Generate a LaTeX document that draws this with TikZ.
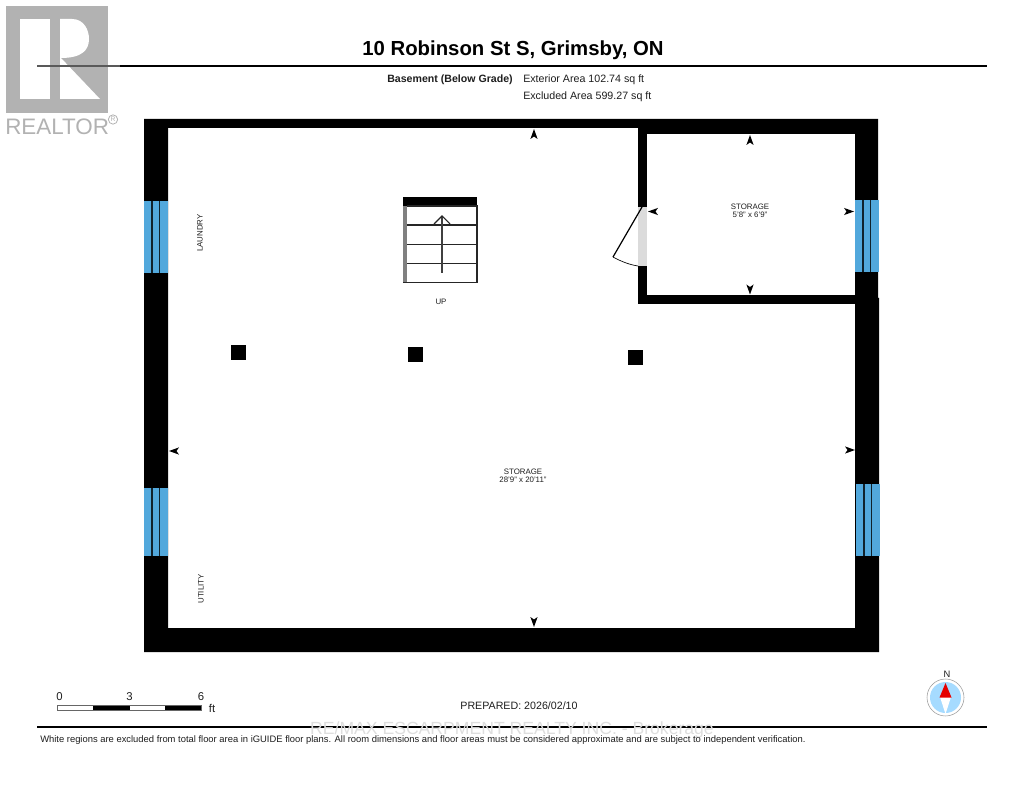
\documentclass[tikz,border=0pt]{standalone}
\usepackage{fontspec}
\setmainfont{Liberation Sans}
\definecolor{winblue}{RGB}{82,168,220}
\definecolor{logogray}{RGB}{178,178,178}
\definecolor{txt}{RGB}{30,30,30}
\tikzset{
 wall/.style={fill=black,draw=none},
 winpane/.style={fill=winblue,draw=none},
 winline/.style={draw=black!80!winblue,line width=0.8pt},
 tread/.style={draw=black!85,line width=0.8pt},
 lab/.style={inner sep=0,text=txt,font=\fontsize{5.9}{6.4}\selectfont},
 info/.style={inner sep=0,text=txt,font=\fontsize{8}{9}\selectfont,anchor=west},
 scalelab/.style={inner sep=0,text=txt,font=\fontsize{8.5}{9}\selectfont},
 tick/.style={fill=black,draw=none},
}
\newcommand{\winV}[3]{% x left, y top, y bottom (vertical window, 24 wide)
 \fill[winpane] (#1,#2) rectangle (#1+24,#3);
 \draw[winline] (#1+8,#2) -- (#1+8,#3);
 \draw[winline] (#1+15.5,#2) -- (#1+15.5,#3);
}
\newcommand{\tickU}[2]{\fill[tick] (#1,#2-5) -- (#1+3.6,#2+5) -- (#1,#2+2.5) -- (#1-3.6,#2+5) -- cycle;}
\newcommand{\tickD}[2]{\fill[tick] (#1,#2+5) -- (#1+3.6,#2-5) -- (#1,#2-2.5) -- (#1-3.6,#2-5) -- cycle;}
\newcommand{\tickL}[2]{\fill[tick] (#1-5,#2) -- (#1+5,#2-3.6) -- (#1+2.5,#2) -- (#1+5,#2+3.6) -- cycle;}
\newcommand{\tickR}[2]{\fill[tick] (#1+5,#2) -- (#1-5,#2-3.6) -- (#1-2.5,#2) -- (#1-5,#2+3.6) -- cycle;}
\begin{document}
\begin{tikzpicture}[x=0.75pt,y=-0.75pt]
\useasboundingbox (0,0) rectangle (1024,791);
\fill[white] (0,0) rectangle (1024,791);
% Realtor logo
\fill[logogray] (6,6) rectangle (108,113);
\fill[white] (20,19) rectangle (50,99);
\fill[white] (60,99) -- (60,19) -- (72,19) .. controls (84,19) and (89,30) .. (89,39) .. controls (89,50) and (82,58) .. (61,58) -- (100,99) -- cycle;
\node[inner sep=0,anchor=west,text=logogray,font=\fontsize{16.8}{18}\selectfont] (realtor) at (5,127) {REALTOR};
\node[circle,draw=logogray,line width=0.6pt,inner sep=0.7pt,text=logogray,font=\fontsize{5}{5}\selectfont] (reg) at (113,119.5) {R};
% Header
\node[inner sep=0,text=black,font=\bfseries\fontsize{15.25}{17}\selectfont] (title) at (513,50) {10 Robinson St S, Grimsby, ON};
\draw[black,line width=1.1pt] (120,66) -- (987,66);
\draw[black!65,line width=1.1pt] (37,66) -- (120,66);
\node[inner sep=0,anchor=east,text=txt,font=\bfseries\fontsize{7.95}{9}\selectfont] (lvl) at (513,80) {Basement (Below Grade)};
\node[info] (ext) at (523,80) {Exterior Area 102.74 sq ft};
\node[info] (excl) at (523,97) {Excluded Area 599.27 sq ft};
% Walls: outer mass with main room cut out
\fill[wall,even odd rule] (144,119) -- (878,119) -- (878,298) -- (879,298) -- (879,652) -- (144,652) -- cycle
 (168,128) -- (638,128) -- (638,304) -- (855,304) -- (855,628) -- (168,628) -- cycle;
% Storage room block
\fill[wall] (638,128) rectangle (855,304);
\fill[white] (647,134) rectangle (855,295);
% Windows
\winV{144}{201}{273}
\winV{144}{488}{556}
\winV{855}{200}{272}
\winV{856}{484}{556}
% Door
\fill[black!14] (638,207) rectangle (647,266);
\draw[black,line width=0.9pt] (642,207) -- (613,257);
\draw[black,line width=0.5pt] (613,257) .. controls (622,262) and (631,265) .. (638,266);
% Stairs
\fill[black!50] (402.5,197) rectangle (407,283);
\fill[black] (402.5,197) rectangle (477,206);
\draw[tread] (407,206) -- (477,206) -- (477,282.5) -- (402.5,282.5);
\draw[tread] (407,225) -- (477,225);
\draw[tread] (407,244.5) -- (477,244.5);
\draw[tread] (407,263.5) -- (477,263.5);
\draw[black!75,line width=0.9pt] (442,273) -- (442,216);
\draw[black!85,line width=0.8pt] (434,224) -- (442,216) -- (450,224);
\node[lab] (up) at (441,302) {UP};
% Columns
\fill[wall] (230.5,345) rectangle (245.5,360);
\fill[wall] (407.5,347.5) rectangle (422.5,362.5);
\fill[wall] (627.5,350) rectangle (642.5,365);
% Dimension ticks
\tickU{534}{134}
\tickU{750}{140}
\tickD{750}{289.5}
\tickD{534}{622}
\tickL{174}{451}
\tickL{653}{211.5}
\tickR{849}{211.5}
\tickR{850}{450}
% Room labels
\node[lab,rotate=90] (laundry) at (200,233) {LAUNDRY};
\node[lab,rotate=90] (utility) at (201,589) {UTILITY};
\node[lab,align=center] (st1) at (750,211) {STORAGE\\[-0.5pt]5'8" x 6'9"};
\node[lab,align=center] (st2) at (523,476) {STORAGE\\[-0.5pt]28'9" x 20'11"};
% Scale bar
\fill[black] (93,705) rectangle (130,711);
\fill[black] (165,705) rectangle (201.5,711);
\draw[black!60,line width=0.5pt] (57.5,705.5) rectangle (201.5,710.5);
\node[scalelab] (s0) at (59.5,697) {0};
\node[scalelab] (s3) at (129.5,697) {3};
\node[scalelab] (s6) at (201,697) {6};
\node[scalelab] (sft) at (212,708) {ft};
\node[inner sep=0,text=txt,font=\fontsize{8}{9}\selectfont] (prep) at (519,705.5) {PREPARED: 2026/02/10};
% Compass
\node[inner sep=0,text=txt,font=\fontsize{7}{8}\selectfont] (north) at (947,674) {N};
\fill[white] (945.5,697.5) circle (18.5);
\draw[black!40,line width=0.4pt] (945.5,697.5) circle (18.5);
\fill[blue!40!cyan!35] (945.5,697.5) circle (15.5);
\fill[white] (940,697) -- (951,697) -- (945.5,714) -- cycle;
\fill[red!90!black] (945.5,683) -- (951.5,697.5) -- (939.5,697.5) -- cycle;
% Footer
\draw[black,line width=1.1pt] (37,727) -- (987,727);
\node[inner sep=0,text=black!13,font=\fontsize{13.2}{15}\selectfont] (wm) at (512,729.5) {RE/MAX ESCARPMENT REALTY INC. - Brokerage};
\node[inner sep=0,anchor=west,text=txt,font=\fontsize{7.05}{8}\selectfont] (note) at (40,740.5) {White regions are excluded from total floor area in iGUIDE floor plans. All room dimensions and floor areas must be considered approximate and are subject to independent verification.};
\end{tikzpicture}
\end{document}
